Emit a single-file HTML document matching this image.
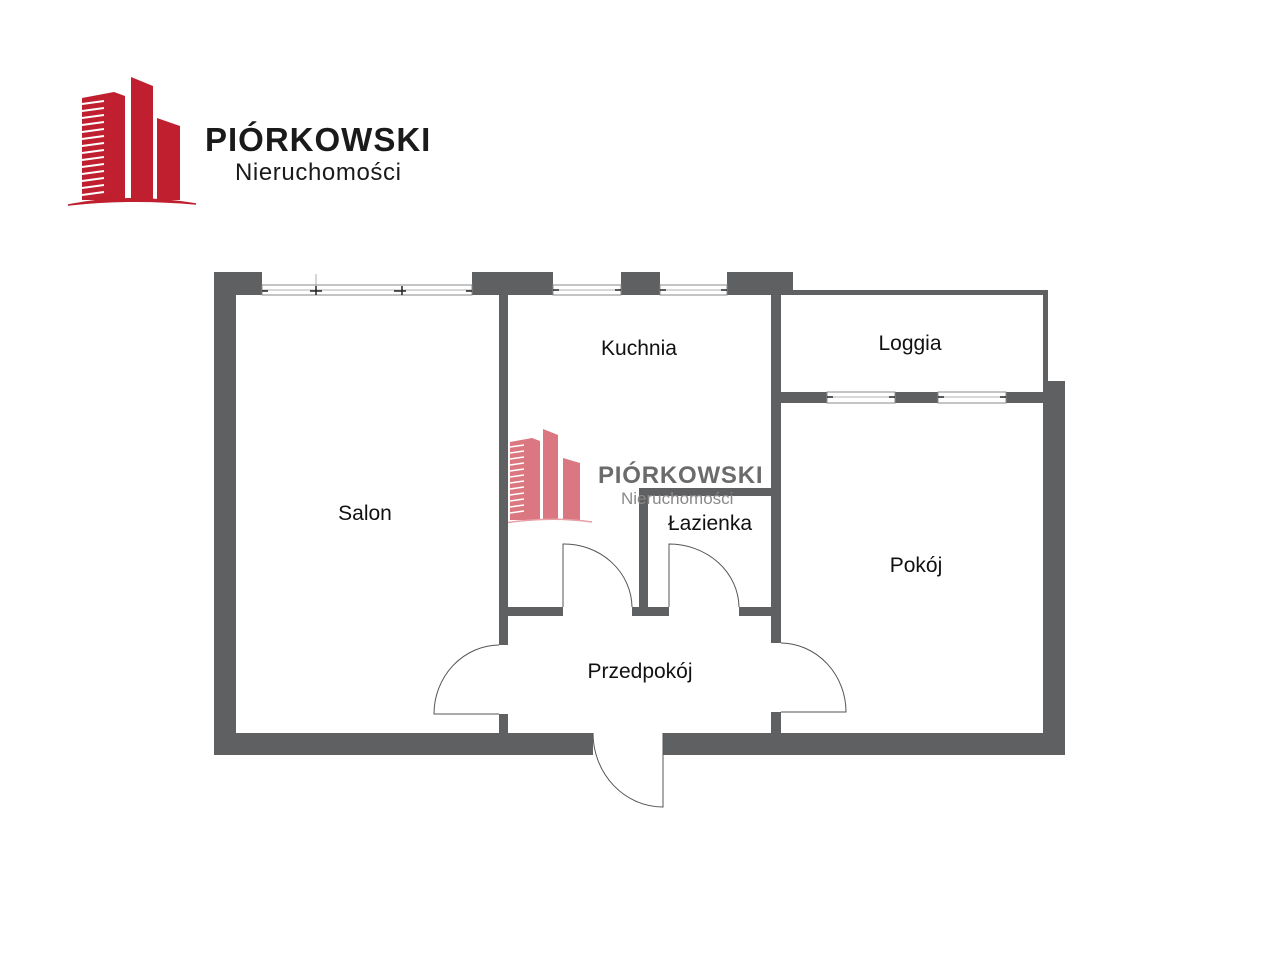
<!DOCTYPE html>
<html><head><meta charset="utf-8"><style>
html,body{margin:0;padding:0;background:#fff;}
svg{display:block;}
text{font-family:"Liberation Sans",sans-serif;}
</style></head><body>
<svg width="1280" height="960" viewBox="0 0 1280 960" xmlns="http://www.w3.org/2000/svg">
<rect width="1280" height="960" fill="#fff"/>
<!-- Logo -->
<g fill="#c01f2f">
<polygon points="82,98 114,92 125,96 125,200 82,200"/>
<polygon points="131,77 153,86 153,200 131,200"/>
<polygon points="157,118 180,126 180,200 157,200"/>
</g>
<g stroke="#fff" stroke-width="2">
<line x1="82" y1="104" x2="104" y2="101"/><line x1="82" y1="111" x2="104" y2="108"/>
<line x1="82" y1="118" x2="104" y2="115"/><line x1="82" y1="125" x2="104" y2="122"/>
<line x1="82" y1="132" x2="104" y2="129"/><line x1="82" y1="139" x2="104" y2="136"/>
<line x1="82" y1="146" x2="104" y2="143"/><line x1="82" y1="153" x2="104" y2="150"/>
<line x1="82" y1="160" x2="104" y2="157"/><line x1="82" y1="167" x2="104" y2="164"/>
<line x1="82" y1="174" x2="104" y2="171"/><line x1="82" y1="181" x2="104" y2="178"/>
<line x1="82" y1="188" x2="104" y2="185"/><line x1="82" y1="195" x2="104" y2="192"/>
</g>
<path d="M68,205 Q130,193 196,204 Q130,198 68,205Z" fill="#c01f2f" stroke="#c01f2f" stroke-width="1.5"/>
<text x="205" y="151" font-size="33" font-weight="bold" fill="#1a1a1a" letter-spacing="1">PIÓRKOWSKI</text>
<text x="235" y="180" font-size="24" fill="#1a1a1a" letter-spacing="0.6">Nieruchomości</text>

<!-- Watermark -->
<g fill="#d9707a" opacity="0.95">
<polygon points="510,442 532,438 540,441 540,520 510,520"/>
<polygon points="543,429 558,435 558,520 543,520"/>
<polygon points="563,458 580,463 580,520 563,520"/>
</g>
<g stroke="#fff" stroke-width="1.5">
<line x1="510" y1="447" x2="524" y2="445"/><line x1="510" y1="453" x2="524" y2="451"/>
<line x1="510" y1="459" x2="524" y2="457"/><line x1="510" y1="465" x2="524" y2="463"/>
<line x1="510" y1="471" x2="524" y2="469"/><line x1="510" y1="477" x2="524" y2="475"/>
<line x1="510" y1="483" x2="524" y2="481"/><line x1="510" y1="489" x2="524" y2="487"/>
<line x1="510" y1="495" x2="524" y2="493"/><line x1="510" y1="501" x2="524" y2="499"/>
<line x1="510" y1="507" x2="524" y2="505"/><line x1="510" y1="513" x2="524" y2="511"/>
</g>
<path d="M505,523 Q550,516 592,522" stroke="#e8a0a6" stroke-width="1.5" fill="none"/>

<!-- Walls -->
<g fill="#5f6062">
<rect x="214" y="272" width="22" height="483"/>
<rect x="214" y="272" width="48" height="23"/>
<rect x="472" y="272" width="81" height="23"/>
<rect x="621" y="272" width="39" height="23"/>
<rect x="727" y="272" width="66" height="23"/>
<rect x="781" y="290" width="267" height="5"/>
<rect x="1043" y="290" width="5" height="103"/>
<rect x="1043" y="381" width="22" height="374"/>
<rect x="214" y="733" width="379" height="22"/>
<rect x="663" y="733" width="402" height="22"/>
<rect x="499" y="295" width="9" height="350"/>
<rect x="499" y="714" width="9" height="20"/>
<rect x="771" y="295" width="10" height="348"/>
<rect x="771" y="712" width="10" height="22"/>
<rect x="772" y="392" width="276" height="11"/>
<rect x="508" y="607" width="55" height="9"/>
<rect x="632" y="607" width="37" height="9"/>
<rect x="739" y="607" width="33" height="9"/>
<rect x="639" y="488" width="9" height="122"/>
<rect x="639" y="488" width="133" height="8"/>
</g>
<!-- windows -->
<g stroke="#888" stroke-width="1" fill="#fff">
<rect x="262" y="285" width="210" height="10"/>
<rect x="553" y="285" width="68" height="10"/>
<rect x="660" y="285" width="67" height="10"/>
<rect x="827" y="392" width="68" height="11"/>
<rect x="938" y="392" width="68" height="11"/>
</g>
<g stroke="#999" stroke-width="0.8">
<line x1="262" y1="290" x2="472" y2="290"/>
<line x1="553" y1="290" x2="621" y2="290"/>
<line x1="660" y1="290" x2="727" y2="290"/>
<line x1="827" y1="397" x2="895" y2="397"/>
<line x1="938" y1="397" x2="1006" y2="397"/>
<line x1="316" y1="274" x2="316" y2="295"/>
</g>
<g stroke="#222" stroke-width="1.5">
<line x1="262" y1="291" x2="268" y2="291"/><line x1="310" y1="291" x2="322" y2="291"/>
<line x1="394" y1="291" x2="406" y2="291"/><line x1="466" y1="291" x2="472" y2="291"/>
<line x1="402" y1="286" x2="402" y2="295"/><line x1="316" y1="286" x2="316" y2="295"/>
<line x1="553" y1="290" x2="559" y2="290"/><line x1="615" y1="290" x2="621" y2="290"/>
<line x1="660" y1="290" x2="666" y2="290"/><line x1="721" y1="290" x2="727" y2="290"/>
<line x1="827" y1="397" x2="833" y2="397"/><line x1="889" y1="397" x2="895" y2="397"/>
<line x1="938" y1="397" x2="944" y2="397"/><line x1="1000" y1="397" x2="1006" y2="397"/>
</g>
<!-- doors -->
<g stroke="#555" stroke-width="1" fill="#fff">
<path d="M563,607 L563,544 A68,64 0 0 1 632,607"/>
<path d="M669,607 L669,544 A70,64 0 0 1 739,607"/>
<path d="M499,645 A66,69 0 0 0 434,714 L499,714"/>
<path d="M781,643 A66,69 0 0 1 846,712 L781,712"/>
<path d="M593,733 A70,74 0 0 0 663,807 L663,733"/>
</g>

<text x="598" y="483" font-size="24" font-weight="bold" fill="#6b6b6b" letter-spacing="0.8">PIÓRKOWSKI</text>
<text x="621" y="504" font-size="17" fill="#8a8a8a">Nieruchomości</text>

<g font-size="21" fill="#111" text-anchor="middle">
<text x="365" y="520">Salon</text>
<text x="639" y="355">Kuchnia</text>
<text x="910" y="350">Loggia</text>
<text x="710" y="530">Łazienka</text>
<text x="916" y="572">Pokój</text>
<text x="640" y="678">Przedpokój</text>
</g>
</svg>
</body></html>
